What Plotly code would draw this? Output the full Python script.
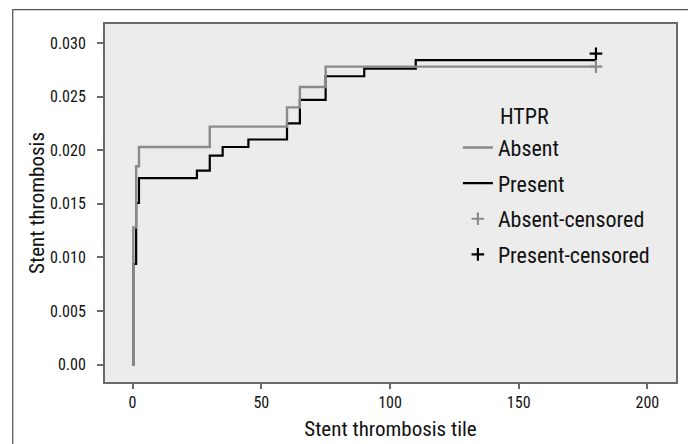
import plotly.graph_objects as go

# ---- data ----
absent_time = [0, 0.3, 1.4, 2.5, 30, 60, 65, 75, 180]
absent_cum = [0, 0.0128, 0.0185, 0.0203, 0.0222, 0.0240, 0.0259, 0.0278, 0.0278]

present_time = [0, 0.3, 1.4, 2.5, 25, 30, 35, 45, 60, 65, 75, 90, 110, 180]
present_cum = [0, 0.0094, 0.0151, 0.0174, 0.0181, 0.0195, 0.0203, 0.0210,
               0.0225, 0.0247, 0.0269, 0.0276, 0.0284, 0.0284]

absent_censored_time = [180]
absent_censored_cum = [0.0278]
present_censored_time = [180]
present_censored_cum = [0.0290]

x_ticks = [0, 50, 100, 150, 200]
y_ticks = [0, 0.005, 0.010, 0.015, 0.020, 0.025, 0.030]
y_tick_labels = ["0.00", "0.005", "0.010", "0.015", "0.020", "0.025", "0.030"]
legend_title = "HTPR"

FONT = "Roboto Condensed, Roboto, Liberation Sans, sans-serif"
GRAY = "#8a8a8a"
AXIS = "#6a6a6a"
TXT = "#111111"

fig = go.Figure()

fig.add_trace(go.Scatter(
    x=present_time, y=present_cum, mode="lines", name="Present",
    line=dict(color="black", width=2.2, shape="hv"),
    legendgroup="g2", legendrank=2,
))
fig.add_trace(go.Scatter(
    x=absent_time, y=absent_cum, mode="lines", name="Absent",
    line=dict(color=GRAY, width=2.4, shape="hv"),
    legendgroup="g1", legendrank=1,
))
fig.add_trace(go.Scatter(
    x=absent_censored_time, y=absent_censored_cum, mode="markers",
    name="Absent-censored",
    marker=dict(symbol="cross-thin", size=9, line=dict(color=GRAY, width=2.2)),
    legendgroup="g3", legendrank=3,
))
fig.add_trace(go.Scatter(
    x=present_censored_time, y=present_censored_cum, mode="markers",
    name="Present-censored",
    marker=dict(symbol="cross-thin", size=9, line=dict(color="black", width=2.2)),
    legendgroup="g4", legendrank=4,
))

# outer frame around the whole chart
fig.add_shape(type="rect", xref="paper", yref="paper",
              x0=-0.1616, x1=1.0257, y0=-0.2, y1=1.04,
              line=dict(color="#555555", width=1.2), fillcolor="rgba(0,0,0,0)",
              layer="above")

# legend heading
fig.add_annotation(xref="paper", yref="paper", x=0.688, y=0.741,
                   xanchor="left", yanchor="middle", showarrow=False,
                   text=legend_title, font=dict(size=22, family=FONT, color=TXT))

# page body has an 8px margin -> figure is 688x436 placed at (8,8)
fig.update_layout(
    width=688, height=436, autosize=False,
    margin=dict(l=97, r=20, t=16, b=62, autoexpand=False),
    paper_bgcolor="white",
    plot_bgcolor="#ececec",
    font=dict(family=FONT, size=16, color=TXT),
    showlegend=True,
    legend=dict(
        font=dict(size=22, family=FONT, color=TXT),
        x=0.618, y=0.713, xanchor="left", yanchor="top",
        bgcolor="rgba(0,0,0,0)",
        tracegroupgap=4,
        traceorder="grouped",
    ),
    xaxis=dict(
        range=[-10.7, 211.1], tickvals=x_ticks, automargin=False,
        ticks="outside", ticklen=5, tickwidth=1.5, tickcolor=AXIS,
        showline=True, linecolor=AXIS, linewidth=2, mirror=True,
        showgrid=False, zeroline=False,
        tickfont=dict(size=16, family=FONT, color=TXT),
        title=dict(text="Stent thrombosis tile", standoff=10,
                   font=dict(size=21, family=FONT, color=TXT)),
    ),
    yaxis=dict(
        range=[-0.00161, 0.03177], tickvals=y_ticks, ticktext=y_tick_labels,
        automargin=False, ticklabelstandoff=8,
        ticks="outside", ticklen=6, tickwidth=1.5, tickcolor=AXIS,
        showline=True, linecolor=AXIS, linewidth=2, mirror=True,
        showgrid=False, zeroline=False,
        tickfont=dict(size=16, family=FONT, color=TXT),
        title=dict(text="Stent thrombosis", standoff=0,
                   font=dict(size=21, family=FONT, color=TXT)),
    ),
)

fig.write_html("out.html")
